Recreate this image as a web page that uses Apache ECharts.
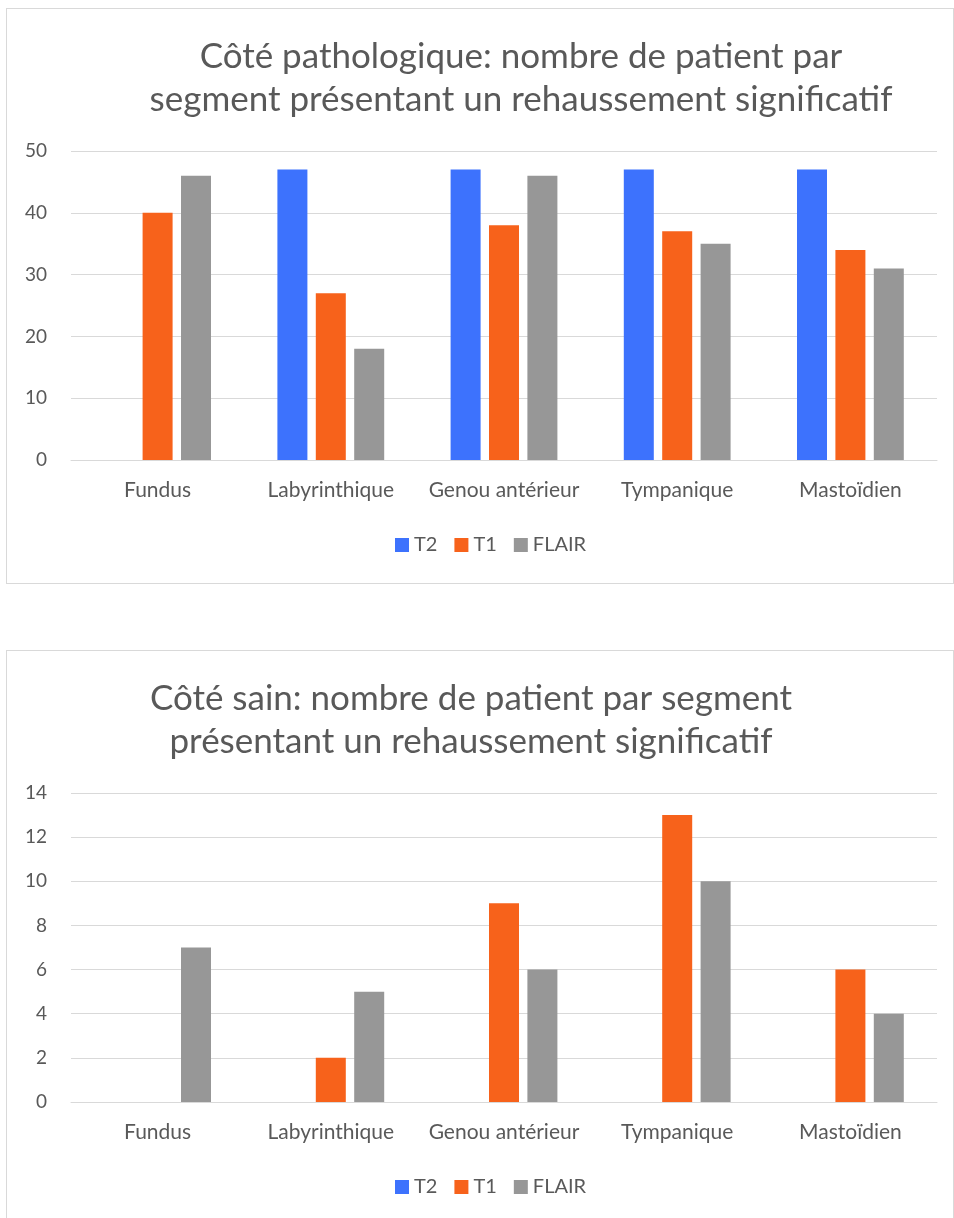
<!DOCTYPE html>
<html>
<head>
<meta charset="utf-8">
<script src="https://cdn.jsdelivr.net/npm/echarts@6/dist/echarts.min.js"></script>
<style>
  html, body { margin: 0; padding: 0; background: #ffffff; width: 954px; height: 1218px; overflow: hidden; }
  .box { position: absolute; left: 6px; width: 946px; height: 574px; border: 1px solid #d9d9d9; background: #fff; }
  #c1 { top: 8px; }
  #c2 { top: 650px; }
</style>
</head>
<body>
<div id="c1" class="box"></div>
<div id="c2" class="box"></div>
<script>
const categories = ['Fundus', 'Labyrinthique', 'Genou antérieur', 'Tympanique', 'Mastoïdien'];
const seriesNames = ['T2', 'T1', 'FLAIR'];
const seriesColors = ['#3d72fd', '#f7621b', '#979797'];

const title1 = 'Côté pathologique: nombre de patient par\nsegment présentant un rehaussement significatif';
const patho_T2 = [0, 47, 47, 47, 47];
const patho_T1 = [40, 27, 38, 37, 34];
const patho_FLAIR = [46, 18, 46, 35, 31];
const patho_yTicks = { min: 0, max: 50, interval: 10 };

const title2 = 'Côté sain: nombre de patient par segment\nprésentant un rehaussement significatif';
const sain_T2 = [0, 0, 0, 0, 0];
const sain_T1 = [0, 2, 9, 13, 6];
const sain_FLAIR = [7, 5, 6, 10, 4];
const sain_yTicks = { min: 0, max: 14, interval: 2 };

const FONT = 'Lato, "Open Sans", sans-serif';
const TXT = '#595959';

function makeOption(title, titleX, data, ticks) {
  return {
    animation: false,
    textStyle: { fontFamily: FONT },
    title: {
      text: title,
      left: titleX,
      top: 21,
      textAlign: 'center',
      textStyle: { fontFamily: FONT, fontSize: 35, fontWeight: 'normal', color: TXT, lineHeight: 43 }
    },
    legend: {
      data: seriesNames,
      left: 388,
      top: 526,
      padding: 0,
      itemWidth: 14,
      itemHeight: 14,
      itemGap: 17,
      icon: 'rect',
      textStyle: { fontFamily: FONT, fontSize: 20, color: TXT }
    },
    grid: { left: 64, right: 16, top: 142, height: 309, containLabel: false },
    xAxis: {
      type: 'category',
      data: categories,
      axisLine: { lineStyle: { color: '#d9d9d9', width: 1 } },
      axisTick: { show: false },
      axisLabel: { color: TXT, fontSize: 21, fontFamily: FONT, margin: 20, interval: 0 }
    },
    yAxis: {
      type: 'value',
      min: ticks.min, max: ticks.max, interval: ticks.interval,
      axisLine: { show: false },
      axisTick: { show: false },
      splitLine: { lineStyle: { color: '#d9d9d9', width: 1 } },
      axisLabel: { color: TXT, fontSize: 19, fontFamily: FONT, margin: 24 }
    },
    series: data.map((d, i) => ({
      name: seriesNames[i],
      type: 'bar',
      data: d,
      barWidth: 30,
      barGap: '28%',
      itemStyle: { color: seriesColors[i] }
    }))
  };
}

const ch1 = echarts.init(document.getElementById('c1'), null, { width: 946, height: 574 });
ch1.setOption(makeOption(title1, 509, [patho_T2, patho_T1, patho_FLAIR], patho_yTicks));
const ch2 = echarts.init(document.getElementById('c2'), null, { width: 946, height: 574 });
ch2.setOption(makeOption(title2, 459, [sain_T2, sain_T1, sain_FLAIR], sain_yTicks));
</script>
</body>
</html>
